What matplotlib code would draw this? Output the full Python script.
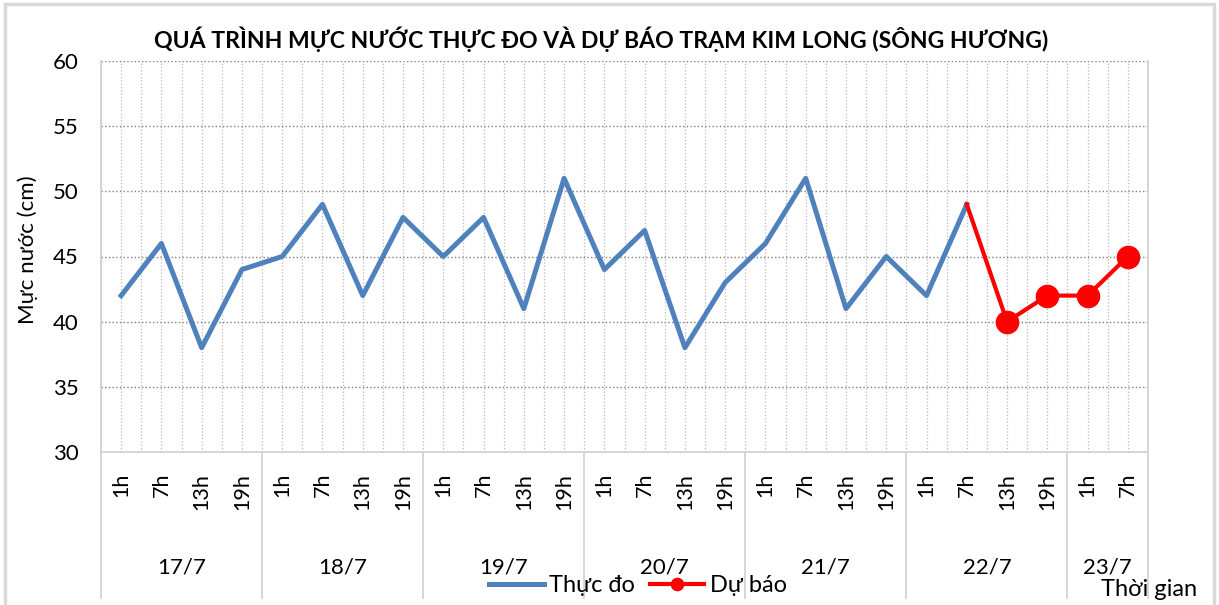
import matplotlib as mpl
import matplotlib.pyplot as plt
from matplotlib.patches import Rectangle

mpl.use('Agg')

plt.rcParams['font.family'] = ['Lato', 'DejaVu Sans']

# Data
days = ['17/7', '18/7', '19/7', '20/7', '21/7', '22/7', '23/7']
hours_per_day = [4, 4, 4, 4, 4, 4, 2]
hours = ['1h', '7h', '13h', '19h'] * 6 + ['1h', '7h']
thuc_do = [42, 46, 38, 44, 45, 49, 42, 48, 45, 48, 41, 51,
           44, 47, 38, 43, 46, 51, 41, 45, 42, 49]
du_bao = [49, 40, 42, 42, 45]
du_bao_start = 21

W, H = 1219, 605
fig = plt.figure(figsize=(W / 100, H / 100), dpi=100)

# plot area in pixels
left, right, top, bottom = 101, 1148, 61, 452
ax = fig.add_axes([left / W, 1 - bottom / H, (right - left) / W, (bottom - top) / H])
ax_h = bottom - top

n = len(hours)
x = list(range(n))
ax.set_xlim(-0.5, n - 0.5)
ax.set_ylim(30, 60)

# grid
ax.set_yticks(range(30, 61, 5))
ax.set_xticks(x)
ax.set_xticks([i - 0.5 for i in range(n + 1)], minor=True)
ax.grid(axis='y', which='major', linestyle=':', color='#7f7f7f', linewidth=1.0)
ax.grid(axis='x', which='both', linestyle=':', color='#b8b8b8', linewidth=0.9)
ax.set_axisbelow(True)

for s in ['top', 'right']:
    ax.spines[s].set_visible(False)
for s in ['left', 'bottom']:
    ax.spines[s].set_color('#d0d0d0')
    ax.spines[s].set_linewidth(1.2)

ax.tick_params(axis='both', which='both', length=0)
ax.tick_params(axis='y', pad=16, labelsize=16)
ax.tick_params(axis='x', pad=15, labelsize=15.5)
ax.set_xticklabels(hours, rotation=90, va='top', ha='center')

# series
ax.plot(x[:len(thuc_do)], thuc_do, color='#4F81BD', linewidth=3.6,
        label='Thực đo', zorder=3)
xf = x[du_bao_start:du_bao_start + len(du_bao)]
ax.plot(xf, du_bao, color='#FF0000', linewidth=3.0, marker='o',
        markersize=16, markevery=list(range(1, len(du_bao))),
        label='Dự báo', zorder=4)

# day group labels and separators
trans = ax.get_xaxis_transform()
sep_y = (bottom - 598) / ax_h
date_y = (bottom - 568) / ax_h
pos = -0.5
ax.plot([pos, pos], [0, sep_y], transform=trans, color='#d0d0d0',
        linewidth=1.2, clip_on=False)
for d, k in zip(days, hours_per_day):
    ax.text(pos + k / 2, date_y, d, transform=trans, ha='center', va='center',
            fontsize=16)
    pos += k
    ax.plot([pos, pos], [0 if pos < n - 0.5 else 1, sep_y], transform=trans,
            color='#d0d0d0', linewidth=1.2, clip_on=False)

# titles
fig.text(601 / W, 1 - 39 / H,
         'QUÁ TRÌNH MỰC NƯỚC THỰC ĐO VÀ DỰ BÁO TRẠM KIM LONG (SÔNG HƯƠNG)',
         ha='center', va='center', fontsize=16.6, fontweight='bold')
fig.text(28 / W, 1 - 250 / H, 'Mực nước (cm)', rotation=90,
         ha='center', va='center', fontsize=16)
fig.text(1197 / W, 1 - 590 / H, 'Thời gian', ha='right', va='center',
         fontsize=17)

leg = fig.legend(loc='center', bbox_to_anchor=(638 / W, 1 - 586 / H), ncol=2,
                 frameon=False, fontsize=17, handlelength=2.3,
                 handletextpad=0.25, columnspacing=0.6, markerscale=0.55,
                 borderpad=0, borderaxespad=0)

# outer chart border
fig.patches.append(Rectangle((5 / W, -0.01), 1209 / W, 1 - 4 / H + 0.01,
                             transform=fig.transFigure, fill=False,
                             edgecolor='#d9d9d9', linewidth=2.5))

fig.savefig('out.png', dpi=100)
